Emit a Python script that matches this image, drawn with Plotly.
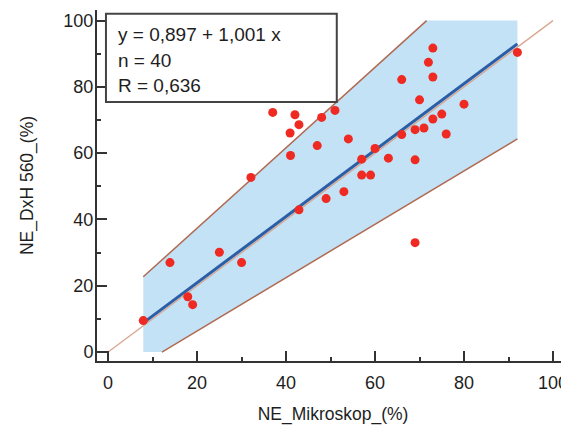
import plotly.graph_objects as go

# ---- data ----
x_mikroskop = [7.9, 13.9, 17.9, 19.0, 25.0, 30.0, 32.1, 37.0, 40.9, 41.0,
               42.0, 42.9, 42.9, 47.0, 48.0, 49.0, 51.0, 53.0, 54.0, 57.0,
               57.0, 59.0, 60.0, 63.0, 66.0, 66.0, 69.0, 69.0, 69.0, 70.0,
               71.0, 72.0, 73.0, 73.0, 73.0, 75.0, 76.0, 80.0, 92.0]
y_dxh = [9.5, 27.0, 16.7, 14.3, 30.1, 27.0, 52.7, 72.3, 66.1, 59.3,
         71.6, 68.6, 42.9, 62.3, 70.8, 46.3, 72.9, 48.4, 64.3, 58.2,
         53.4, 53.4, 61.4, 58.5, 82.2, 65.6, 67.1, 58.0, 33.0, 76.1,
         67.6, 87.4, 91.7, 83.0, 70.3, 71.8, 65.8, 74.8, 90.4]

intercept = 0.897
slope = 1.001
fit_x = [min(x_mikroskop), max(x_mikroskop)]
fit_y = [intercept + slope * v for v in fit_x]

identity_x = [0, 100]
identity_y = [0, 100]

upper_x = [7.9, 71.6]
upper_y = [22.7, 100]
lower_x = [12.1, 92.0]
lower_y = [0.0, 64.3]

band_x = [7.9, 7.9, 71.6, 92.0, 92.0, 12.1, 7.9]
band_y = [0.0, 22.7, 100.0, 100.0, 64.3, 0.0, 0.0]

stats_lines = ["y = 0,897 + 1,001 x", "n = 40", "R = 0,636"]
tick_vals = [0, 20, 40, 60, 80, 100]

FONT = "Liberation Sans, Arial, Helvetica, sans-serif"
AX = "#333333"
TXT = "#1e1e1e"

fig = go.Figure()
fig.add_trace(go.Scatter(x=band_x, y=band_y, mode="lines", fill="toself",
                         fillcolor="#c3e2f6", line=dict(width=0),
                         hoverinfo="skip", showlegend=False))
fig.add_trace(go.Scatter(x=identity_x, y=identity_y, mode="lines",
                         line=dict(color="#d9a68e", width=1.3), showlegend=False))
fig.add_trace(go.Scatter(x=upper_x, y=upper_y, mode="lines",
                         line=dict(color="#b06a52", width=1.5), showlegend=False))
fig.add_trace(go.Scatter(x=lower_x, y=lower_y, mode="lines",
                         line=dict(color="#b06a52", width=1.5), showlegend=False))
fig.add_trace(go.Scatter(x=fit_x, y=fit_y, mode="lines",
                         line=dict(color="#2c5ea6", width=3), showlegend=False))
fig.add_trace(go.Scatter(x=x_mikroskop, y=y_dxh, mode="markers",
                         marker=dict(color="#ee2a22", size=9, line=dict(width=0)),
                         showlegend=False))

# stats box
fig.add_shape(type="rect", xref="paper", yref="paper",
              x0=0.019, x1=0.508, y0=0.738, y1=0.989,
              line=dict(color="#444444", width=2), fillcolor="white", layer="above")
for i, t in enumerate(stats_lines):
    fig.add_annotation(text=t, xref="paper", yref="paper", x=0.040,
                       y=0.929 - i * 0.0715, xanchor="left", yanchor="middle",
                       showarrow=False, font=dict(family=FONT, size=19, color=TXT))

axis_common = dict(showline=True, linecolor=AX, linewidth=2, mirror=False,
                   ticks="inside", ticklen=10, tickwidth=2, tickcolor=AX,
                   tickvals=tick_vals, showgrid=False, zeroline=False,
                   automargin=False,
                   tickfont=dict(family=FONT, size=18, color=TXT),
                   minor=dict(ticks="inside", ticklen=4, tickwidth=1.5,
                              tickcolor=AX, dtick=10, showgrid=False))

fig.update_xaxes(range=[-2.5, 103.6], ticklabelstandoff=4,
                 title=dict(text="NE_Mikroskop_(%)", standoff=25,
                            font=dict(family=FONT, size=17.5, color=TXT)),
                 **axis_common)
fig.update_yaxes(range=[-2.7, 103.2], ticklabelstandoff=-2,
                 title=dict(text="NE_DxH 560_(%)", standoff=25,
                            font=dict(family=FONT, size=17.5, color=TXT)),
                 **axis_common)

# the page body adds an 8px offset, so the figure is sized to fit the 569x425 window
fig.update_layout(width=561, height=417, margin=dict(l=89, r=0, t=2, b=64),
                  paper_bgcolor="white", plot_bgcolor="white",
                  font=dict(family=FONT))

fig.write_html("out.html")
